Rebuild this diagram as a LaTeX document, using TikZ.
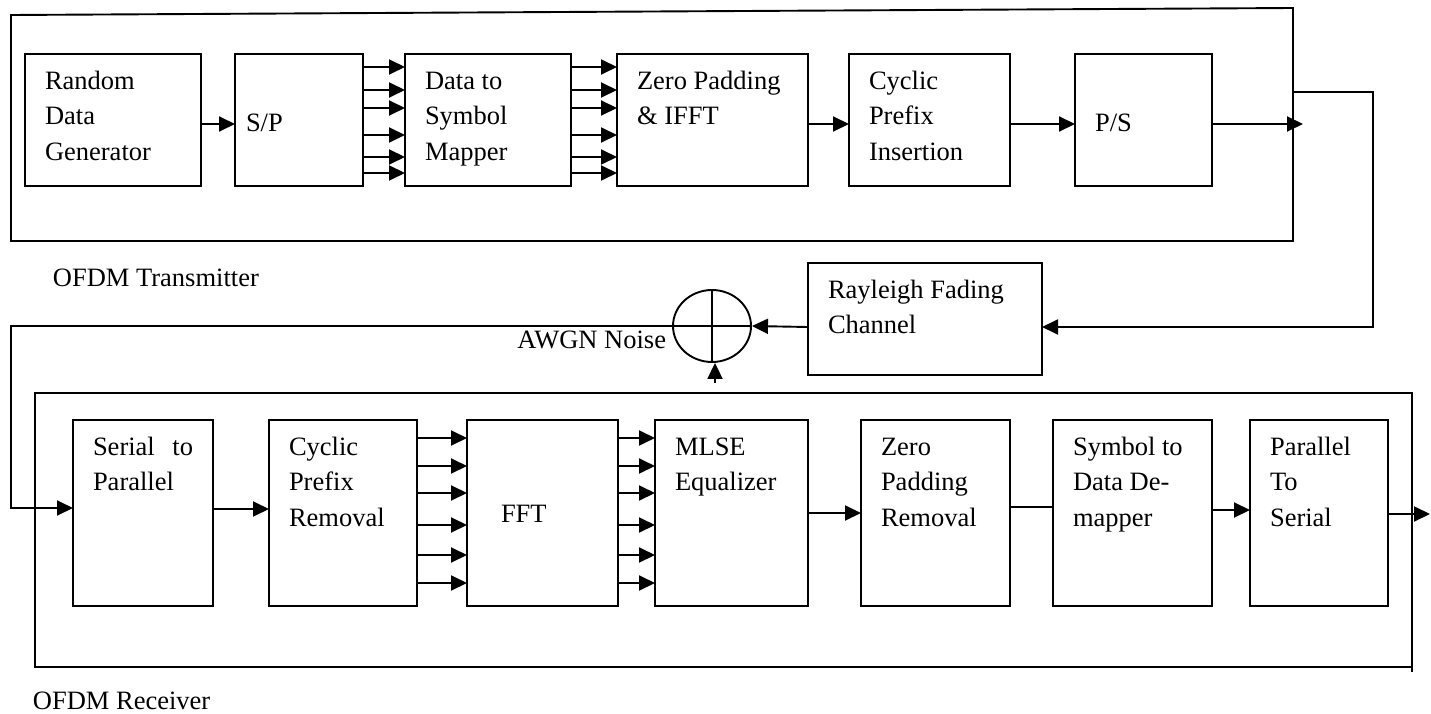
\documentclass[tikz,border=0pt]{standalone}
\usepackage{fontspec}
\setmainfont{Liberation Serif}
\usetikzlibrary{arrows.meta, positioning, shapes.geometric}

% top-aligned block text: width, height, lines
\newcommand{\blktext}[3]{\parbox[t][\dimexpr#2-21pt\relax][t]{\dimexpr#1-40pt\relax}{\strut#3}}

\begin{document}
\begin{tikzpicture}[x=1pt, y=-1pt, line width=1.9pt, >={Triangle[length=16pt,width=15pt]},
    font=\fontsize{26.5}{35.5}\selectfont,
    blk/.style={rectangle, draw, inner xsep=20pt, inner ysep=10.5pt, outer sep=0pt, anchor=north west},
    lbl/.style={inner sep=0pt},
    conn/.style={->}]
    \useasboundingbox (0,0) rectangle (1431,714);

    % transmitter
    \draw (11,241) -- (11,15) -- (1293,8) -- (1293,241) -- cycle;
    \node [blk] (gen) at (25,54) {\blktext{176pt}{132pt}{Random\\Data\\Generator}};
    \node [blk, right=34pt of gen] (sp) {\blktext{128pt}{132pt}{\\[7pt]\hspace*{-9pt}S/P}};
    \node [blk, right=42pt of sp] (map) {\blktext{166pt}{132pt}{Data to\\Symbol\\Mapper}};
    \node [blk, right=46pt of map] (zp) {\blktext{191pt}{132pt}{Zero Padding\\\& IFFT}};
    \node [blk, right=41pt of zp] (cp) {\blktext{161pt}{132pt}{Cyclic\\Prefix\\Insertion}};
    \node [blk, right=65pt of cp] (ps) {\blktext{137pt}{132pt}{\\[7pt]P/S}};
    \node [lbl, anchor=base west] (txlbl) at (52,286) {OFDM Transmitter};

    \coordinate (txout) at (1303,124);
    \coordinate (txtap) at (1293,92);
    \foreach \src/\dst in {gen/sp, zp/cp, cp/ps}
        \draw [conn] (\src.east |- 0,124) -- (\dst.west |- 0,124);
    \draw [conn] (ps.east |- txout) -- (txout);
    \foreach \y in {67,90,108,135,157,173} {
        \draw [conn] (sp.east |- 0,\y) -- (map.west |- 0,\y);
        \draw [conn] (map.east |- 0,\y) -- (zp.west |- 0,\y);
    }

    % channel
    \node [blk] (fade) at (808,263) {\blktext{234pt}{112pt}{Rayleigh Fading\\Channel}};
    \node [ellipse, draw, minimum width=78pt, minimum height=72pt, inner sep=0pt] (sum) at (712,326) {};
    \draw (sum.north) -- (sum.south) (sum.west) -- (sum.east);
    \node [lbl, anchor=base east] (awgn) at (667,348) {AWGN Noise};
    \coordinate (noise) at (715,383);
    \draw [conn] (txtap) -| (1373,327) -- ([yshift=-8pt]fade.east);
    \draw [conn] ([yshift=-8pt]fade.west) -- (sum.east);
    \draw [conn] (noise) -- (noise |- sum.south);

    % receiver
    \draw (1412,672) -- (1412,393) -- (35,393) -- (35,667) -- (1412,667);
    \node [blk] (ser) at (73,420) {\blktext{140pt}{186pt}{Serial\hfill to\\Parallel}};
    \node [blk, right=56pt of ser] (cpr) {\blktext{148pt}{186pt}{Cyclic\\Prefix\\Removal}};
    \node [blk, right=50pt of cpr] (fft) {\blktext{151pt}{186pt}{\\[32pt]\hspace*{14pt}FFT}};
    \node [blk, right=37pt of fft] (mlse) {\blktext{153pt}{186pt}{MLSE\\Equalizer}};
    \node [blk, right=53pt of mlse] (zpr) {\blktext{149pt}{186pt}{Zero\\Padding\\Removal}};
    \node [blk, right=43pt of zpr] (sdm) {\blktext{159pt}{186pt}{Symbol to\\Data De-\\mapper}};
    \node [blk, right=38pt of sdm] (pts) {\blktext{138pt}{186pt}{Parallel\\To\\Serial}};
    \node [lbl, anchor=base west] (rxlbl) at (32,709) {OFDM Receiver};

    \coordinate (rxout) at (1430,514);
    \draw [conn] (sum.west) -| (11,508) -- ([yshift=5pt]ser.west);
    \foreach \src/\dst/\y in {ser/cpr/509, mlse/zpr/513, sdm/pts/510}
        \draw [conn] (\src.east |- 0,\y) -- (\dst.west |- 0,\y);
    \draw (zpr.east |- 0,507) -- (sdm.west |- 0,507);
    \draw [conn] (pts.east |- rxout) -- (rxout);
    \foreach \y in {438,466,493,525,555,583} {
        \draw [conn] (cpr.east |- 0,\y) -- (fft.west |- 0,\y);
        \draw [conn] (fft.east |- 0,\y) -- (mlse.west |- 0,\y);
    }
\end{tikzpicture}
\end{document}
